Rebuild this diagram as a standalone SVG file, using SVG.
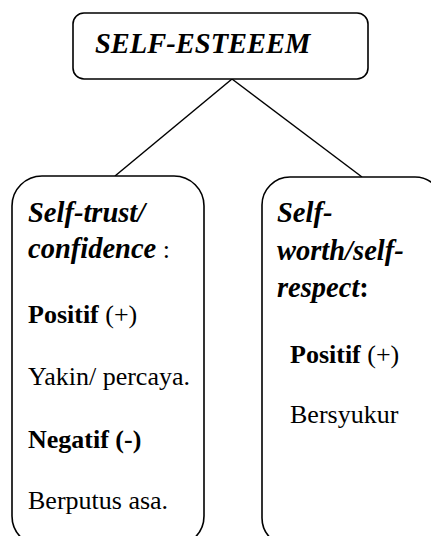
<svg xmlns="http://www.w3.org/2000/svg" width="431" height="536" viewBox="0 0 431 536">
<style>
.box{fill:#fff;stroke:#000;stroke-width:1.6}
.conn line{stroke:#000;stroke-width:1.5}
text{font-family:'Liberation Serif','Times New Roman',Times,'DejaVu Serif',serif;fill:#000}
.h{font-size:28.5px;font-weight:bold;font-style:italic}
.b{font-size:26px}
.bb{font-weight:bold}
.n{font-weight:normal;font-style:normal}
</style>
<rect width="431" height="536" fill="#fff"/>
<g class="conn" id="connectors">
<line x1="232" y1="79" x2="115" y2="176"/>
<line x1="232" y1="79" x2="362" y2="177"/>
</g>
<g id="self-esteem">
<rect class="box" x="73" y="13" width="295" height="66" rx="11"/>
<text class="h" x="95" y="53">SELF-ESTEEEM</text>
</g>
<g id="self-trust">
<rect class="box" x="12" y="176" width="192" height="370" rx="30"/>
<text class="h" x="28" y="222">Self-trust/</text>
<text class="h" x="28" y="258">confidence<tspan class="n b"> :</tspan></text>
<text class="b" x="28" y="323"><tspan class="bb">Positif</tspan> (+)</text>
<text class="b" x="28" y="385">Yakin/ percaya.</text>
<text class="b bb" x="28" y="448">Negatif (-)</text>
<text class="b" x="28" y="509">Berputus asa.</text>
</g>
<g id="self-worth">
<rect class="box" x="262" y="177" width="181" height="369" rx="28"/>
<text class="h" x="277" y="222">Self-</text>
<text class="h" x="277" y="260">worth/self-</text>
<text class="h" x="277" y="297">respect<tspan font-style="normal">:</tspan></text>
<text class="b" x="290" y="363"><tspan class="bb">Positif</tspan> (+)</text>
<text class="b" x="290" y="423">Bersyukur</text>
</g>
</svg>
